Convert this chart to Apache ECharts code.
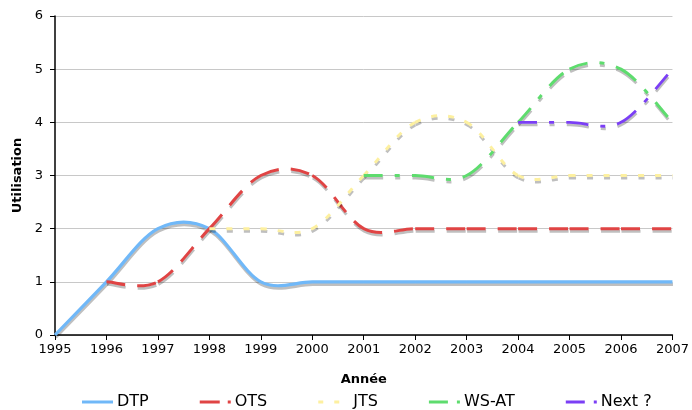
<!DOCTYPE html>
<html><head><meta charset="utf-8">
<script src="https://cdn.jsdelivr.net/npm/echarts@6/dist/echarts.min.js"></script>
<style>html,body{margin:0;padding:0;background:#fff}#c{width:692px;height:410px}</style>
</head><body><div id="c"></div>
<script>
const years = [1995,1996,1997,1998,1999,2000,2001,2002,2003,2004,2005,2006,2007];
const DTP   = [0,1,2,2,1,1,1,1,1,1,1,1,1];
const OTS   = [null,1,1,2,3,3,2,2,2,2,2,2,2];
const JTS   = [null,null,null,2,2,2,3,4,4,3,3,3,3];
const WSAT  = [null,null,null,null,null,null,3,3,3,4,5,5,4];
const NEXT  = [null,null,null,null,null,null,null,null,null,4,4,4,5];
const yTicks = [0,1,2,3,4,5,6];

function pairs(vals){ const out=[]; vals.forEach((v,i)=>{ if(v!==null) out.push([years[i],v]); }); return out; }
const font = 'DejaVu Sans, Verdana, sans-serif';

// Smooth curve through the data points; each segment is its own subpath so the dash pattern restarts per segment
function splinePath(api, pts){
  const p = pts.map(d => api.coord(d));
  let s = '';
  for (let i = 0; i < p.length - 1; i++){
    const p0 = p[i-1] || p[i], p1 = p[i], p2 = p[i+1], p3 = p[i+2] || p[i+1];
    const c1x = p1[0] + (p2[0]-p0[0])/6, c1y = p1[1] + (p2[1]-p0[1])/6;
    const c2x = p2[0] - (p3[0]-p1[0])/6, c2y = p2[1] - (p3[1]-p1[1])/6;
    s += 'M' + p1[0] + ',' + p1[1] + ' C' + c1x + ',' + c1y + ' ' + c2x + ',' + c2y + ' ' + p2[0] + ',' + p2[1] + ' ';
  }
  return s;
}
function ser(name, vals, color, dash, width){
  const pts = pairs(vals);
  return {name, type:'custom', data:pts, encode:{x:0, y:1},
    itemStyle:{color},
    renderItem:function(params, api){
      if (params.dataIndex !== 0) return null;
      return {type:'path', shape:{pathData: splinePath(api, pts)},
        style:{fill:'none', stroke:color, lineWidth:width, lineDash:dash, lineCap:'butt', lineJoin:'round',
          shadowColor:'rgba(0,0,0,0.25)', shadowOffsetY:2.5, shadowOffsetX:0.5, shadowBlur:0.5}};
    }};
}
const chart = echarts.init(document.getElementById('c'));
chart.setOption({
  animation:false,
  textStyle:{fontFamily:font},
  grid:{left:55, right:15, top:16, bottom:75},
  xAxis:{type:'value', min:1995, max:2007, interval:1,
    name:'Année', nameLocation:'middle', nameGap:38,
    nameTextStyle:{fontWeight:'bold', fontSize:13, color:'#000', fontFamily:font},
    axisLine:{lineStyle:{color:'#000', width:1.5}},
    axisTick:{show:true, length:5, lineStyle:{color:'#000'}},
    axisLabel:{color:'#000', fontSize:13, fontFamily:font, margin:8, formatter:v => String(v)},
    splitLine:{show:false}},
  yAxis:{type:'value', min:0, max:6, interval:1,
    name:'Utilisation', nameLocation:'middle', nameGap:29,
    nameTextStyle:{fontWeight:'bold', fontSize:13, color:'#000', fontFamily:font},
    axisLine:{show:true, lineStyle:{color:'#000', width:1.5}},
    axisTick:{show:true, length:5, lineStyle:{color:'#000'}},
    axisLabel:{color:'#000', fontSize:13, fontFamily:font, margin:12},
    splitLine:{lineStyle:{color:'#c8c8c8', width:1}}},
  legend:{top:394, left:82, padding:0, itemGap:51, itemWidth:31, itemHeight:3,
    textStyle:{fontSize:16, color:'#000', fontFamily:font, padding:[0,0,0,-1]},
    data:[
      {name:'DTP', icon:'path://M0,0h31v3h-31z'},
      {name:'OTS', icon:'path://M0,0h20v3h-20z M28,0h3v3h-3z'},
      {name:'JTS', icon:'path://M0,0h5v3h-5z M16,0h5v3h-5z M31,0h0.01v3h-0.01z'},
      {name:'WS-AT', icon:'path://M0,0h19v3h-19z M28,0h3v3h-3z'},
      {name:'Next ?', icon:'path://M0,0h19v3h-19z M28,0h3v3h-3z'}
    ]},
  series:[
    ser('DTP', DTP, '#70b8f8', null, 3.2),
    ser('OTS', OTS, '#e04444', [19,12], 3),
    ser('JTS', JTS, '#fdf0a0', [6,11], 3),
    ser('WS-AT', WSAT, '#5edc6e', [19,12,5,12], 3),
    ser('Next ?', NEXT, '#7b3ff5', [19,12,5,12], 2.8)
  ]
});
</script></body></html>
